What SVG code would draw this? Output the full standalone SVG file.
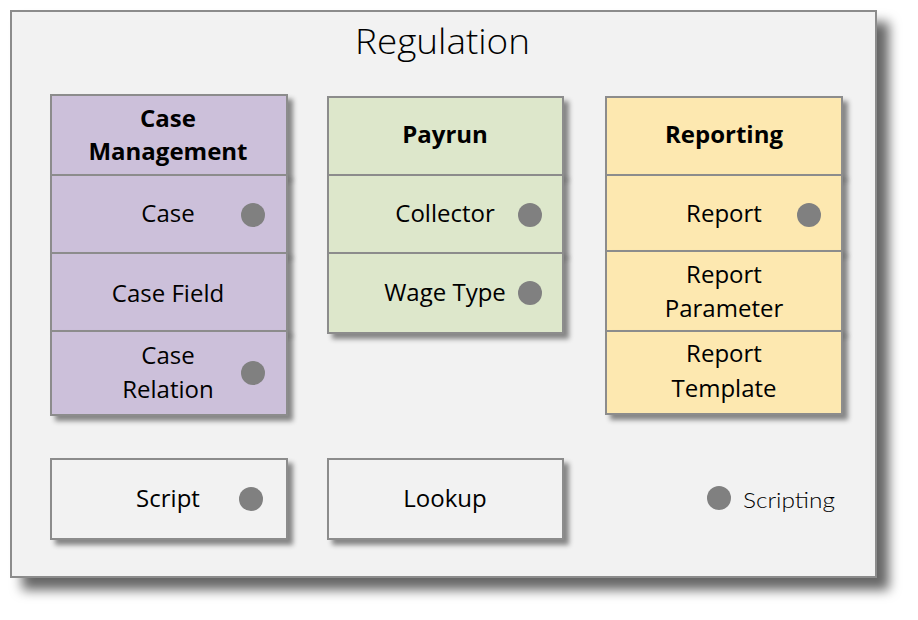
<svg xmlns="http://www.w3.org/2000/svg" width="918" height="620" viewBox="0 0 918 620">
<defs>
<filter id="bigShadow" x="-5%" y="-5%" width="115%" height="120%">
<feDropShadow dx="12" dy="12" stdDeviation="6" flood-color="#000" flood-opacity="0.6"/>
</filter>
<filter id="shadow" x="-10%" y="-10%" width="130%" height="140%">
<feDropShadow dx="5" dy="5" stdDeviation="2.5" flood-color="#000" flood-opacity="0.45"/>
</filter>
</defs>
<style>
.box{stroke:#8c8c8c;stroke-width:2;filter:url(#shadow)}
.purple{fill:#ccc0da}
.green{fill:#dde7cb}
.yellow{fill:#fde8b0}
.white{fill:#f2f2f2}
.t{font-family:"Open Sans","Noto Sans",sans-serif;font-size:24px;fill:#000;text-anchor:middle}
.h{font-weight:bold}
.dot{fill:#808080}
</style>
<rect x="11" y="11" width="865" height="566" fill="#f2f2f2" stroke="#8c8c8c" stroke-width="2" filter="url(#bigShadow)"/>
<text x="355" y="54" font-family="Open Sans, sans-serif" font-weight="300" font-size="35" textLength="175" lengthAdjust="spacingAndGlyphs" fill="#000">Regulation</text>

<g id="case-management">
<rect class="box purple" x="51" y="95" width="236" height="80"/>
<rect class="box purple" x="51" y="175" width="236" height="78"/>
<rect class="box purple" x="51" y="253" width="236" height="78"/>
<rect class="box purple" x="51" y="331" width="236" height="84"/>
<text class="t h" x="168" y="127">Case</text>
<text class="t h" x="168" y="160">Management</text>
<text class="t" x="168" y="222">Case</text>
<circle class="dot" cx="253" cy="215" r="12"/>
<text class="t" x="168" y="302">Case Field</text>
<text class="t" x="168" y="364">Case</text>
<text class="t" x="168" y="398">Relation</text>
<circle class="dot" cx="253" cy="373" r="12"/>
</g>

<g id="payrun">
<rect class="box green" x="328" y="97" width="235" height="78"/>
<rect class="box green" x="328" y="175" width="235" height="78"/>
<rect class="box green" x="328" y="253" width="235" height="80"/>
<text class="t h" x="445" y="143">Payrun</text>
<text class="t" x="445" y="222">Collector</text>
<circle class="dot" cx="530" cy="215" r="12"/>
<text class="t" x="445" y="301">Wage Type</text>
<circle class="dot" cx="530" cy="293" r="12"/>
</g>

<g id="reporting">
<rect class="box yellow" x="606" y="97" width="236" height="78"/>
<rect class="box yellow" x="606" y="175" width="236" height="76"/>
<rect class="box yellow" x="606" y="251" width="236" height="80"/>
<rect class="box yellow" x="606" y="331" width="236" height="83"/>
<text class="t h" x="724" y="143">Reporting</text>
<text class="t" x="724" y="222">Report</text>
<circle class="dot" cx="809" cy="215" r="12"/>
<text class="t" x="724" y="283">Report</text>
<text class="t" x="724" y="317">Parameter</text>
<text class="t" x="724" y="362">Report</text>
<text class="t" x="724" y="397">Template</text>
</g>

<g id="script">
<rect class="box white" x="51" y="459" width="236" height="80"/>
<text class="t" x="168" y="507">Script</text>
<circle class="dot" cx="251" cy="499" r="12"/>
</g>

<g id="lookup">
<rect class="box white" x="328" y="459" width="235" height="80"/>
<text class="t" x="445" y="507">Lookup</text>
</g>

<g id="legend">
<circle class="dot" cx="719" cy="498" r="12"/>
<text x="743" y="508" font-family="Lato, sans-serif" font-weight="300" font-size="22" textLength="92" lengthAdjust="spacingAndGlyphs" fill="#000">Scripting</text>
</g>

<g id="connectors"></g>
</svg>
